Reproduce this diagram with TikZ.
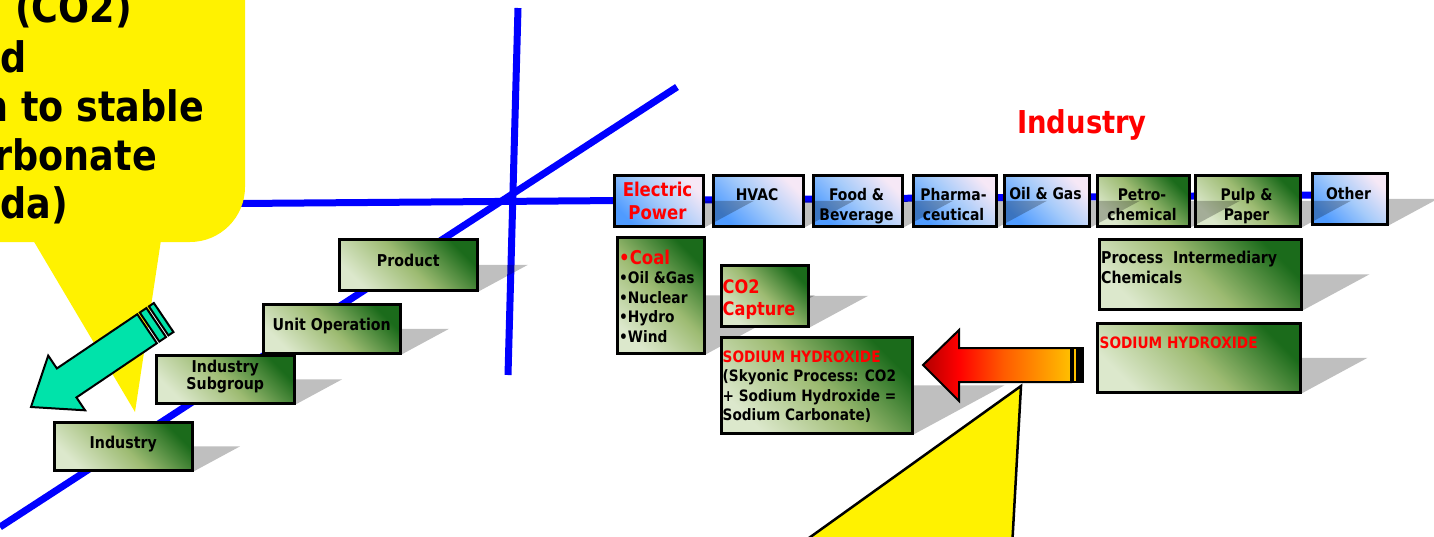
\documentclass[tikz,border=0pt]{standalone}
\usepackage{fontspec}
\setmainfont{DejaVu Sans}[FakeStretch=0.87]
\usetikzlibrary{calc}

\definecolor{glight}{HTML}{DCE8CC}
\definecolor{gmid}{HTML}{9DBB72}
\definecolor{gdark}{HTML}{1B6B1B}
\definecolor{blight}{HTML}{4F9BFF}
\definecolor{bmid}{HTML}{A6CBFA}
\definecolor{bpale}{HTML}{F6E8F6}
\definecolor{fdark}{HTML}{B00000}
\definecolor{forange}{HTML}{FF5A00}
\definecolor{famber}{HTML}{FFC000}
\definecolor{aqua}{HTML}{00E3AA}
\definecolor{axisblue}{HTML}{0000FF}

\pgfdeclarehorizontalshading{greenshade}{100bp}{color(0bp)=(glight); color(25bp)=(glight); color(50bp)=(gmid); color(75bp)=(gdark); color(100bp)=(gdark)}
\pgfdeclarehorizontalshading{blueshade}{100bp}{color(0bp)=(blight); color(25bp)=(blight); color(50bp)=(bmid); color(75bp)=(bpale); color(100bp)=(bpale)}
\pgfdeclarehorizontalshading{fireshade}{100bp}{color(0bp)=(fdark); color(25bp)=(fdark); color(37bp)=(red); color(52bp)=(forange); color(75bp)=(famber); color(100bp)=(famber)}

\tikzset{
  greenbox/.style={draw, line width=2.5, shade, shading=greenshade, shading angle=45, inner sep=0, anchor=north west},
  bluebox/.style={greenbox, shading=blueshade},
  shadowtri/.style={fill=black, opacity=0.25},
  axisline/.style={draw=axisblue, line width=7},
  arrowline/.style={draw=black, line width=2, line join=miter},
  lbl/.style={font=\fontsize{16.3}{17}\selectfont\bfseries, align=center, text depth=8},
  hdr/.style={font=\fontsize{16}{20}\selectfont\bfseries, align=center, inner sep=0},
  coltxt/.style={font=\fontsize{15.7}{19.5}\selectfont\bfseries, align=left, inner sep=0, anchor=north west},
  calltxt/.style={font=\fontsize{42}{49}\selectfont\bfseries, inner sep=0, anchor=base east}
}

\begin{document}
\begin{tikzpicture}[x=1pt, y=-1pt]
\useasboundingbox (0,0) rectangle (1434,536);
\clip (0,0) rectangle (1434,536);

% axes
\draw[axisline] (240,203.5) -- (1320,195);
\draw[axisline] (518,8) -- (508,375);
\draw[axisline] (677,87) -- (0,527);

% left stair
\node[greenbox, minimum width=138, minimum height=51, lbl] (product) at (338,238) {Product};
\node[greenbox, minimum width=137, minimum height=49, lbl] (unitop) at (262,303) {Unit Operation};
\node[greenbox, minimum width=138, minimum height=48, lbl] (subgroup) at (155,354) {Industry\\Subgroup};
\node[greenbox, minimum width=138, minimum height=48, lbl] (industry) at (53,421) {Industry};
\foreach \b in {product,unitop,subgroup,industry}
  \fill[shadowtri] let \p1=(\b.north), \p2=(\b.south) in
    (\b.south east) -- (\b.east) -- ([xshift={0.925*((\y1)-(\y2))}]\b.east) -- cycle;

% industry row
\node[bluebox, minimum width=89, minimum height=51] (elec) at (613,174) {};
\node[bluebox, minimum width=90, minimum height=51] (hvac) at (712,174) {};
\node[bluebox, minimum width=89, minimum height=51] (food) at (812,174) {};
\node[bluebox, minimum width=83, minimum height=51] (pharma) at (912,174) {};
\node[bluebox, minimum width=85, minimum height=51] (oilgas) at (1003,174) {};
\node[greenbox, minimum width=92, minimum height=51] (petro) at (1096,174) {};
\node[greenbox, minimum width=105, minimum height=51] (pulp) at (1194,174) {};
\node[bluebox, minimum width=75, minimum height=51] (other) at (1311,172) {};

\node[hdr, font=\fontsize{19}{23}\selectfont\bfseries, text=red, anchor=north] (elect) at (657.5,182.3) {Electric\\Power};
\node[hdr, anchor=base] (hvact) at (757,200) {HVAC};
\node[hdr, anchor=north] (foodt) at (856.5,187.8) {Food \&\\Beverage};
\node[hdr, anchor=north] (pharmat) at (953.5,187.8) {Pharma-\\ceutical};
\node[hdr, anchor=base] (oilgast) at (1045.5,199.5) {Oil \& Gas};
\node[hdr, anchor=north] (petrot) at (1142,188.3) {Petro-\\chemical};
\node[hdr, anchor=north] (pulpt) at (1246.5,187.8) {Pulp \&\\Paper};
\node[hdr, anchor=base] (othert) at (1348.5,199) {Other};
\foreach \b in {elec,hvac,food,pharma,oilgas,petro,pulp,other}
  \fill[shadowtri] let \p1=(\b.north), \p2=(\b.south) in
    (\b.south east) -- (\b.east) -- ([xshift={0.925*((\y1)-(\y2))}]\b.east) -- cycle;

% sub-boxes
\node[greenbox, minimum width=87, minimum height=116] (coal) at (616,236) {};
\node[coltxt, font=\fontsize{15.8}{19.5}\selectfont\bfseries] (coalt) at (619,249.6)
  {{\color{red}\fontsize{19}{19.5}\selectfont •Coal}\\•Oil \&Gas\\•Nuclear\\•Hydro\\•Wind};
\fill[shadowtri] let \p1=(coal.north), \p2=(coal.south) in
  (coal.south east) -- (coal.east) -- ([xshift={0.925*((\y1)-(\y2))}]coal.east) -- cycle;

\node[greenbox, minimum width=87, minimum height=61] (capture) at (720,264) {};
\node[greenbox, minimum width=191, minimum height=96] (naoh) at (720,336) {};
\node[greenbox, minimum width=202, minimum height=70] (pic) at (1098,238) {};
\node[greenbox, minimum width=203, minimum height=69] (naohb) at (1096,322) {};
\node[coltxt, font=\fontsize{18.6}{22}\selectfont\bfseries, text=red] (capturet) at (722.5,279.4) {CO2\\Capture};
\node[coltxt] (naoht) at (722.5,350.6)
  {{\color{red}SODIUM HYDROXIDE}\\(Skyonic Process: CO2\\+ Sodium Hydroxide =\\Sodium Carbonate)};
\node[coltxt, font=\fontsize{16.3}{20}\selectfont\bfseries] (pict) at (1101,250.6) {Process~ Intermediary\\Chemicals};
\node[coltxt, text=red, anchor=base west] (naohbt) at (1099.5,348) {SODIUM HYDROXIDE};
\foreach \b in {capture,naoh,pic,naohb}
  \fill[shadowtri] let \p1=(\b.north), \p2=(\b.south) in
    (\b.south east) -- (\b.east) -- ([xshift={0.925*((\y1)-(\y2))}]\b.east) -- cycle;

% callout top left
\fill[yellow, rounded corners=55] (-120,-120) rectangle (245,242);
\fill[yellow] (33,240) -- (135,412) -- (161,240) -- cycle;
\node[calltxt] (call1) at (132,22) {(CO2)};
\node[calltxt] (call2) at (27,72) {d};
\node[calltxt] (call3) at (204,121) {n to stable};
\node[calltxt] (call4) at (157,170) {rbonate};
\node[calltxt] (call5) at (68,218) {da)};

\begin{scope}[shift={(31,407)}, rotate=214]
  \filldraw[arrowline, fill=aqua] (0,0) -- (-43,33) -- (-43,17.5) -- (-140,17.5) -- (-140,-17.5) -- (-43,-17.5) -- (-43,-33) -- cycle;
  \filldraw[arrowline, fill=aqua] (-143,-17.5) rectangle (-151,17.5);
  \filldraw[arrowline, fill=aqua] (-154,-17.5) rectangle (-160,17.5);
\end{scope}

% callout bottom
\filldraw[fill=yellow, line width=2.5, line join=miter] (1021,386) -- (795,548) -- (1012,548) -- cycle;

% big arrow
\draw[arrowline, shade, shading=fireshade] (923,365) -- (959,330) -- (959,348) -- (1071,348) -- (1071,382) -- (959,382) -- (959,401) -- cycle;
\filldraw[arrowline, fill=famber] (1073,348) rectangle (1076.5,382);
\filldraw[arrowline, fill=black] (1078,348) rectangle (1083,382);

\node[font=\fontsize{31.5}{36}\selectfont\bfseries, text=red, anchor=base] (title) at (1082,133) {Industry};
\end{tikzpicture}
\end{document}
